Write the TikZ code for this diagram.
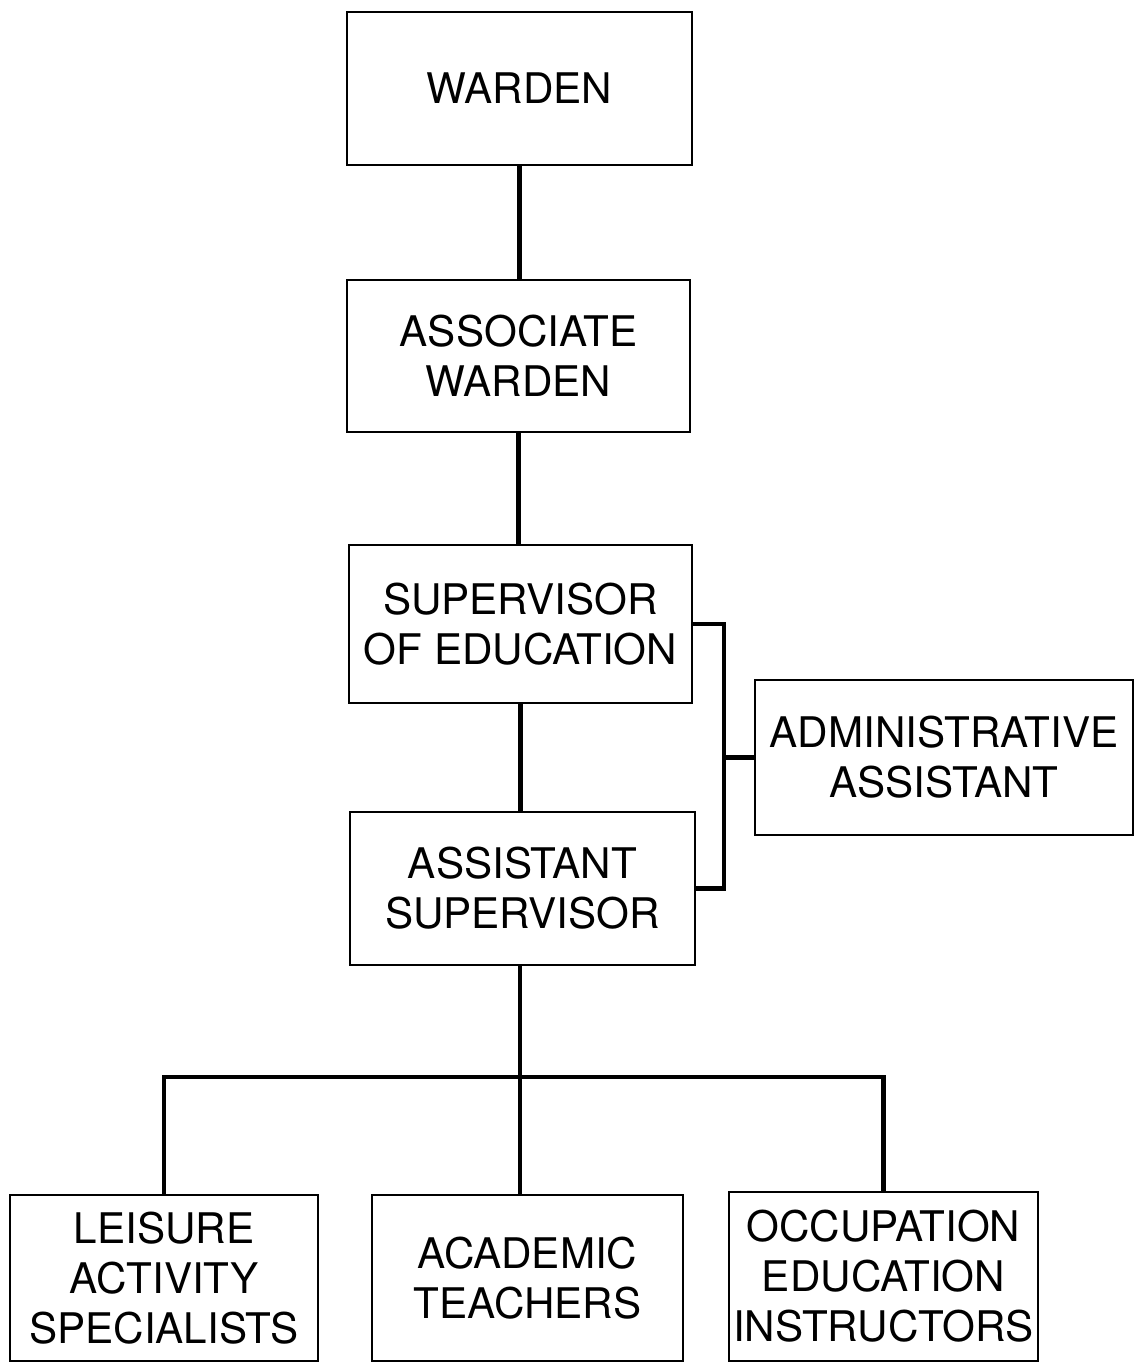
\documentclass[tikz,border=0pt]{standalone}
\usepackage{fontspec}
\setmainfont{TeX Gyre Heros}
\usepackage{tikz}

\begin{document}
\begin{tikzpicture}[x=0.02cm,y=-0.02cm,
  box/.style={draw,line width=1.6pt,align=center,inner sep=0pt,
    font=\fontsize{24}{28.5}\selectfont},
  link/.style={line width=2.6pt}]
\useasboundingbox (0,0) rectangle (1134,1365);
\node[box,minimum width=6.9cm,minimum height=3.06cm] (warden) at (519.5,88.5) {WARDEN};
\node[box,minimum width=6.86cm,minimum height=3.04cm] (assoc) at (518.5,356) {ASSOCIATE\\WARDEN};
\node[box,minimum width=6.86cm,minimum height=3.16cm] (sup) at (520.5,624) {SUPERVISOR\\OF EDUCATION};
\node[box,minimum width=6.9cm,minimum height=3.06cm] (asst) at (522.5,888.5) {ASSISTANT\\SUPERVISOR};
\node[box,minimum width=7.56cm,minimum height=3.1cm] (admin) at (944,757.5) {ADMINISTRATIVE\\ASSISTANT};
\node[box,minimum width=6.16cm,minimum height=3.32cm] (leisure) at (164,1278) {LEISURE\\ACTIVITY\\SPECIALISTS};
\node[box,minimum width=6.22cm,minimum height=3.32cm] (academic) at (527.5,1278) {ACADEMIC\\TEACHERS};
\node[box,minimum width=6.18cm,minimum height=3.38cm] (occup) at (883.5,1276.5) {OCCUPATION\\EDUCATION\\INSTRUCTORS};
\coordinate (brk) at (724,757.5);
\coordinate (bus) at (520,1077);
\draw[link] (warden.south) -- (warden.south |- assoc.north);
\draw[link] (assoc.south) -- (assoc.south |- sup.north);
\draw[link] (sup.south) -- (sup.south |- asst.north);
\draw[link] (sup.east) -| (brk) |- (asst.east);
\draw[link] (admin.west) -- (brk);
\draw[link] (bus |- asst.south) -- (bus);
\draw[link] (leisure.north) |- (bus) -| (occup.north);
\draw[link] (bus) -- (bus |- academic.north);
\end{tikzpicture}
\end{document}
